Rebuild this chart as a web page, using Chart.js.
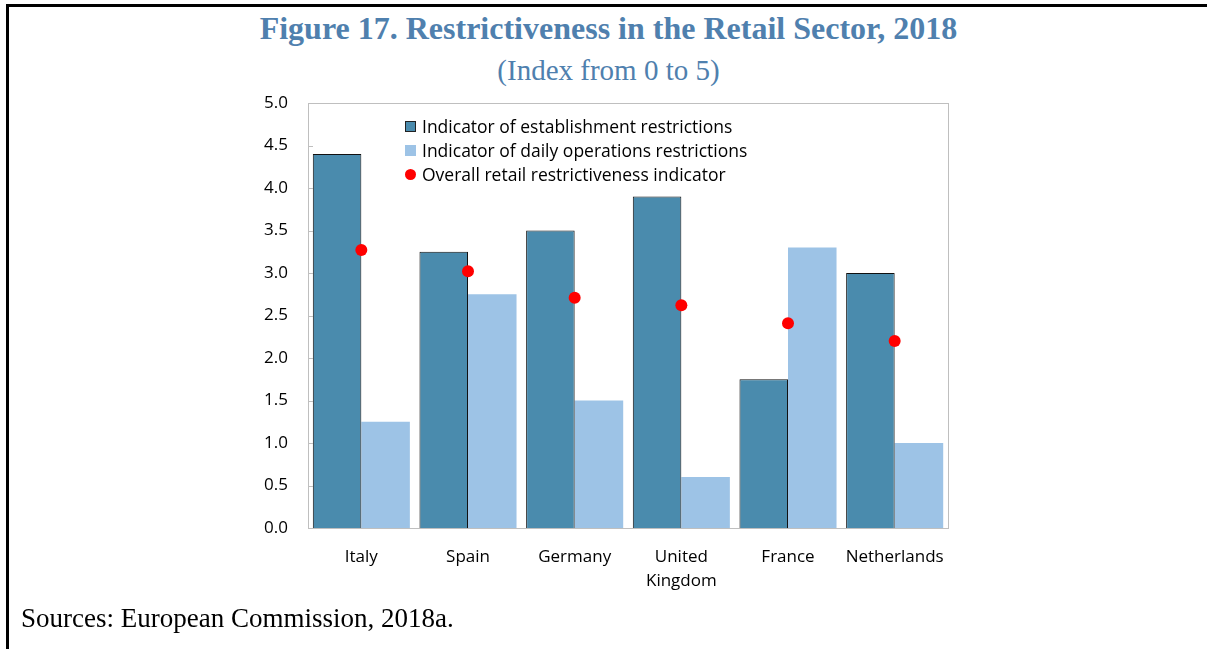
<!DOCTYPE html>
<html>
<head>
<meta charset="utf-8">
<script src="https://cdn.jsdelivr.net/npm/chart.js@4"></script>
<style>
    body { margin: 0; background: #fff; width: 1207px; height: 649px; overflow: hidden; position: relative; }
    #frame { position: absolute; left: 6px; top: 4px; width: 1201px; height: 645px; border-left: 3px solid #000; border-top: 3px solid #000; }
    .title { position: absolute; left: 0; width: 1217px; text-align: center; font-family: "Liberation Serif", "Times New Roman", serif; color: #4F80AE; white-space: nowrap; }
    #t1 { top: 10px; font-size: 32px; font-weight: bold; }
    #t2 { top: 54px; font-size: 29px; }
    #source { position: absolute; left: 21px; top: 603px; font-family: "Liberation Serif", serif; font-size: 27px; color: #000; white-space: nowrap; }
    #legend { position: absolute; left: 405px; top: 114px; font-family: "Open Sans", "Noto Sans", sans-serif; font-size: 17.5px; color: #000; white-space: nowrap; }
    .item { height: 24px; line-height: 24px; display: flex; align-items: center; }
    .sw { width: 11px; height: 11px; margin-right: 6px; box-sizing: border-box; }
    canvas { position: absolute; left: 0; top: 0; }
</style>
</head>
<body>
<div id="frame"></div>
<div class="title" id="t1">Figure 17. Restrictiveness in the Retail Sector, 2018</div>
<div class="title" id="t2">(Index from 0 to 5)</div>
<canvas id="chart" width="1207" height="649"></canvas>
<div id="legend"></div>
<div id="source">Sources: European Commission, 2018a.</div>
<script>
const countries = ["Italy", "Spain", "Germany", ["United", "Kingdom"], "France", "Netherlands"];
const establishment = [4.4, 3.25, 3.5, 3.9, 1.75, 3.0];
const dailyOps = [1.25, 2.75, 1.5, 0.6, 3.3, 1.0];
const overall = [3.27, 3.02, 2.71, 2.62, 2.41, 2.2];
const yTicks = [0, 0.5, 1, 1.5, 2, 2.5, 3, 3.5, 4, 4.5, 5];

const darkBlue = "#4A8BAD";
const lightBlue = "#9DC3E6";
const red = "#FF0000";
const axisGray = "#BFBFBF";
const font = "'Open Sans', 'Noto Sans', sans-serif";

// legend drawn in html, inside the plot area
const legendItems = [
    { label: "Indicator of establishment restrictions", style: `background:${darkBlue};border:1px solid #222;` },
    { label: "Indicator of daily operations restrictions", style: `background:${lightBlue};` },
    { label: "Overall retail restrictiveness indicator", style: `background:${red};border-radius:50%;` }
];
const legendEl = document.getElementById("legend");
legendItems.forEach(item => {
    const div = document.createElement("div");
    div.className = "item";
    div.innerHTML = `<span class="sw" style="${item.style}"></span><span>${item.label}</span>`;
    legendEl.appendChild(div);
});

const frameAndTicks = {
    id: "frameAndTicks",
    afterDatasetsDraw(chart) {
        const { ctx, chartArea, scales } = chart;
        ctx.save();
        ctx.strokeStyle = axisGray;
        ctx.lineWidth = 1;
        ctx.strokeRect(chartArea.left + 0.5, chartArea.top + 0.5, chartArea.right - chartArea.left, chartArea.bottom - chartArea.top);
        yTicks.forEach(v => {
            const y = Math.round(scales.y.getPixelForValue(v)) + 0.5;
            ctx.beginPath();
            ctx.moveTo(chartArea.left, y);
            ctx.lineTo(chartArea.left + 5, y);
            ctx.stroke();
        });
        ctx.restore();
    }
};

new Chart(document.getElementById("chart"), {
    data: {
        labels: countries,
        datasets: [
            {
                type: "line",
                label: "Overall retail restrictiveness indicator",
                data: overall,
                showLine: false,
                pointRadius: 6,
                pointBackgroundColor: red,
                pointBorderWidth: 0,
                order: 0
            },
            {
                type: "bar",
                label: "Indicator of establishment restrictions",
                data: establishment,
                backgroundColor: darkBlue,
                borderColor: "#111",
                borderWidth: 1,
                categoryPercentage: 0.91,
                barPercentage: 1.0,
                order: 1
            },
            {
                type: "bar",
                label: "Indicator of daily operations restrictions",
                data: dailyOps,
                backgroundColor: lightBlue,
                borderWidth: 0,
                categoryPercentage: 0.91,
                barPercentage: 1.0,
                order: 1
            }
        ]
    },
    options: {
        responsive: false,
        animation: false,
        layout: { padding: { left: 248, right: 259, top: 103, bottom: 51 } },
        plugins: {
            legend: { display: false },
            tooltip: { enabled: false }
        },
        scales: {
            x: {
                grid: { display: false, drawTicks: false },
                border: { display: false },
                ticks: { color: "#000", font: { family: font, size: 17, lineHeight: 1.42 }, padding: 17, maxRotation: 0 },
                afterFit: scale => { scale.height = 70; }
            },
            y: {
                min: 0,
                max: 5,
                grid: { display: false, drawTicks: false },
                border: { display: false },
                ticks: {
                    stepSize: 0.5,
                    color: "#000",
                    padding: 20,
                    font: { family: font, size: 17 },
                    callback: v => v.toFixed(1)
                },
                afterFit: scale => { scale.width = 60; }
            }
        }
    },
    plugins: [frameAndTicks]
});
</script>
</body>
</html>
